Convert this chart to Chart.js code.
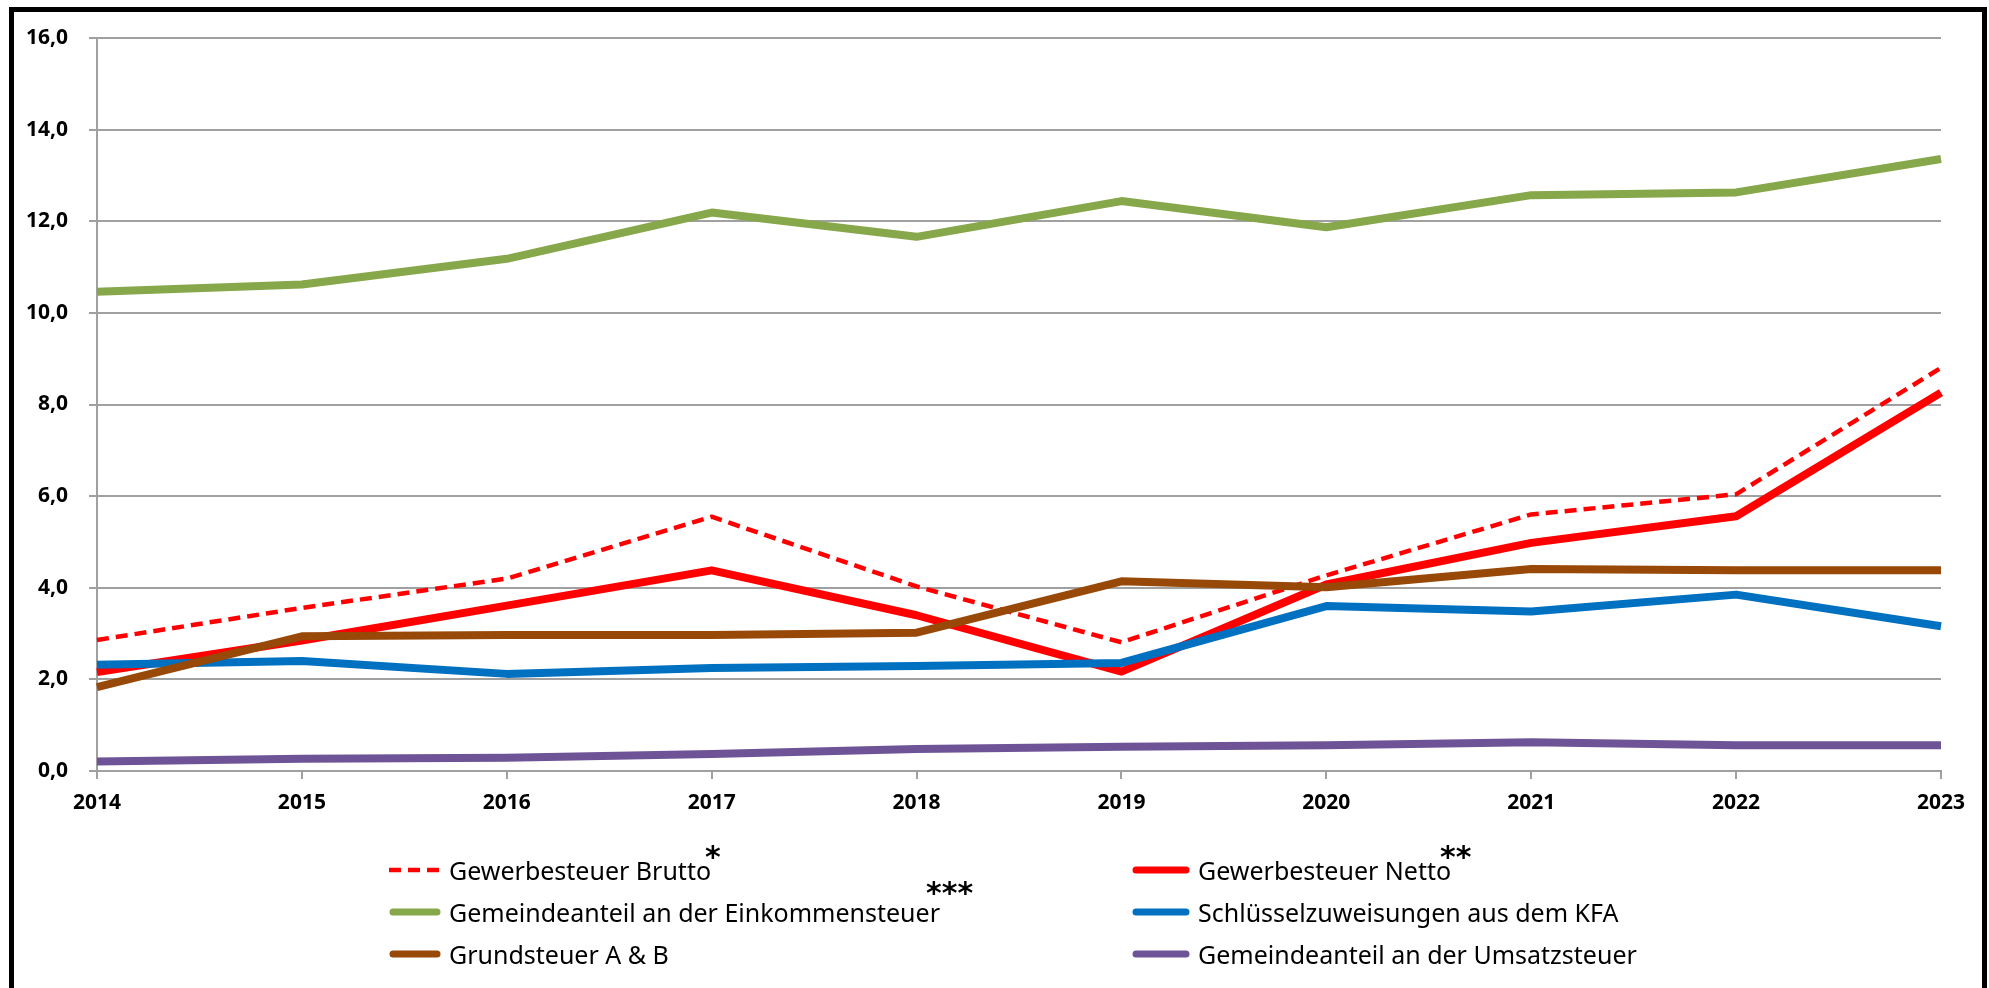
<!DOCTYPE html>
<html><head><meta charset="utf-8">
<script src="https://cdn.jsdelivr.net/npm/chart.js@4"></script>
<style>
html,body{margin:0;padding:0;background:#fff;}
#wrap{position:relative;width:1989px;height:988px;overflow:hidden;background:#fff;}
#frame{position:absolute;left:9px;top:7px;width:1968px;height:1000px;border:5px solid #000;border-bottom:none;}
#c{position:absolute;left:0;top:0;}
.leg{position:absolute;height:40px;display:flex;align-items:center;font-family:"Noto Sans",sans-serif;font-size:25px;color:#000;white-space:nowrap;}
.sw{display:inline-block;margin-right:8px;}
.ast{position:absolute;font-family:"DejaVu Sans",sans-serif;font-weight:bold;font-size:30px;color:#000;line-height:30px;}
</style>
</head><body>
<div id="wrap">
<canvas id="c" width="1989" height="988"></canvas>
<div id="frame"></div>
</div>
<script>
const years = ['2014','2015','2016','2017','2018','2019','2020','2021','2022','2023'];
const yTicks = [0,2,4,6,8,10,12,14,16];
const gewBrutto = [2.86, 3.56, 4.20, 5.55, 4.03, 2.81, 4.27, 5.60, 6.04, 8.80];
const gewNetto = [2.16, 2.85, 3.61, 4.38, 3.40, 2.17, 4.07, 4.98, 5.56, 8.26];
const einkommen = [10.46, 10.62, 11.18, 12.19, 11.66, 12.44, 11.87, 12.57, 12.63, 13.36];
const schluessel = [2.32, 2.40, 2.12, 2.25, 2.29, 2.36, 3.60, 3.48, 3.85, 3.16];
const grundsteuer = [1.83, 2.94, 2.97, 2.97, 3.02, 4.14, 4.01, 4.41, 4.38, 4.38];
const umsatz = [0.21, 0.27, 0.29, 0.37, 0.48, 0.53, 0.56, 0.63, 0.56, 0.56];
const names = ['Gewerbesteuer Brutto','Gewerbesteuer Netto','Gemeindeanteil an der Einkommensteuer','Schlüsselzuweisungen aus dem KFA','Grundsteuer A & B','Gemeindeanteil an der Umsatzsteuer'];
const marks = ['*','**','***','','',''];
const values = [gewBrutto, gewNetto, einkommen, schluessel, grundsteuer, umsatz];
const colors = ['#FF0000','#FF0000','#86A74A','#0070C0','#984807','#6E5496'];
const dashed = [true,false,false,false,false,false];

const datasets = values.map((v,i)=>({
  label: names[i],
  data: v,
  borderColor: colors[i],
  backgroundColor: colors[i],
  borderWidth: dashed[i] ? 4.5 : 8,
  borderDash: dashed[i] ? [12,7] : [],
  borderJoinStyle: 'round',
  borderCapStyle: 'butt',
  pointRadius: 0,
  tension: 0,
  fill: false,
  order: values.length - i
}));

const tickFont = {family:'"Noto Sans", sans-serif', size:21, weight:'bold'};
new Chart(document.getElementById('c'), {
  type:'line',
  data:{labels:years, datasets},
  options:{
    responsive:false, animation:false,
    layout:{padding:{left:0, top:38, right:48, bottom:167}},
    plugins:{legend:{display:false}, tooltip:{enabled:false}},
    scales:{
      x:{
        offset:false,
        grid:{display:true, drawOnChartArea:false, drawTicks:true, tickLength:8, color:'#A0A0A0', lineWidth:2},
        border:{display:true, color:'#A0A0A0', width:2},
        ticks:{color:'#000', font:tickFont, padding:11, maxRotation:0, autoSkip:false},
        afterFit:(s)=>{s.height=50;}
      },
      y:{
        min:0, max:16,
        afterBuildTicks:(s)=>{s.ticks = yTicks.map(v=>({value:v}));},
        grid:{display:true, drawOnChartArea:true, drawTicks:true, tickLength:8, color:'#A0A0A0', lineWidth:2},
        border:{display:true, color:'#A0A0A0', width:2},
        ticks:{color:'#000', font:tickFont, padding:21, callback:(v)=>Number(v).toFixed(1).replace('.',',')},
        afterFit:(s)=>{s.width=97;}
      }
    }
  }
});

// HTML legend built from the datasets
const wrap = document.getElementById('wrap');
const legPos = [[389,850],[1132,850],[389,892],[1132,892],[389,934],[1132,934]];
const swW = [52,58,52,58,52,58];
const astPos = [[705,842],[1440,842],[926,878],null,null,null];
datasets.forEach((d,i)=>{
  const el = document.createElement('div');
  el.className='leg';
  el.style.left = legPos[i][0]+'px';
  el.style.top = legPos[i][1]+'px';
  const sw = document.createElement('canvas');
  sw.width = swW[i]; sw.height = 10; sw.className='sw';
  const g = sw.getContext('2d');
  g.strokeStyle = d.borderColor;
  if (dashed[i]) { g.lineWidth = 4.5; g.setLineDash([12,7]); g.lineCap='butt'; g.beginPath(); g.moveTo(0,5); g.lineTo(swW[i],5); g.stroke(); }
  else { g.lineWidth = 7; g.lineCap='round'; g.beginPath(); g.moveTo(4,5); g.lineTo(swW[i]-4,5); g.stroke(); }
  el.appendChild(sw);
  const t = document.createElement('span');
  t.textContent = d.label;
  el.appendChild(t);
  wrap.appendChild(el);
  if (marks[i]) {
    const a = document.createElement('div');
    a.className='ast';
    a.textContent = marks[i];
    a.style.left = astPos[i][0]+'px';
    a.style.top = astPos[i][1]+'px';
    wrap.appendChild(a);
  }
});
</script>
</body></html>
